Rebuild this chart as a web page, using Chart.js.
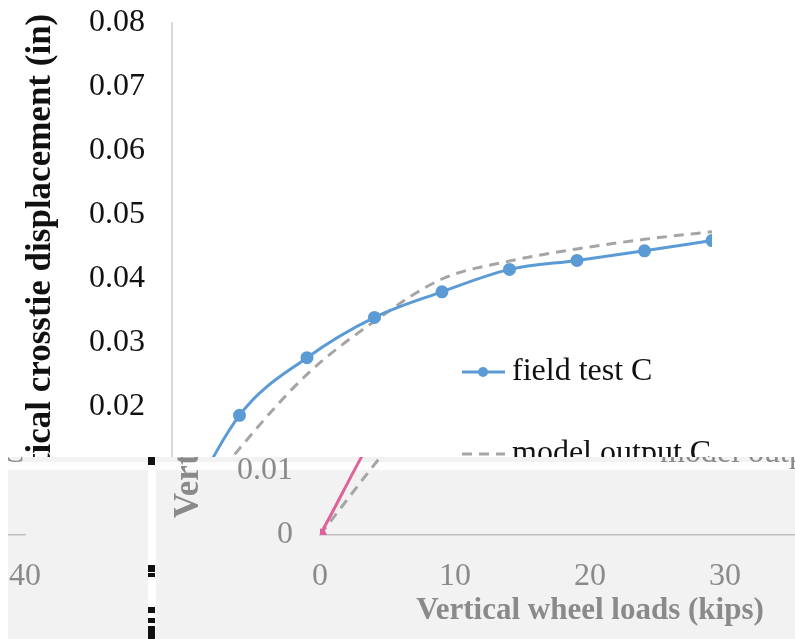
<!DOCTYPE html>
<html>
<head>
<meta charset="utf-8">
<script src="https://cdn.jsdelivr.net/npm/chart.js@4.4.1/dist/chart.umd.min.js"></script>
<style>
  body { margin: 0; background: #fff; }
  .abs { position: absolute; }
  .clip { position: absolute; overflow: hidden; }
  .mark { position: absolute; left: 0; width: 7px; background: #111; }
</style>
</head>
<body>
<canvas id="mainChart" class="abs" width="795" height="639" style="left:0;top:0"></canvas>

<!-- band along the bottom -->
<div class="abs" style="left:8px;top:457px;width:787px;height:182px;background:linear-gradient(#f2f2f2 0 5px,#fdfdfd 5px 13px,#f2f2f2 13px)"></div>
<div class="clip" style="left:8px;top:457px;width:140px;height:182px">
  <canvas id="leftChart" class="abs" width="795" height="639" style="left:-695px;top:-457px"></canvas>
</div>
<div class="clip" style="left:156px;top:457px;width:639px;height:182px">
  <canvas id="shiftChart" class="abs" width="795" height="639" style="left:-8px;top:-457px"></canvas>
</div>
<div class="abs" style="left:148px;top:457px;width:8px;height:182px;background:#fff">
  <div class="mark" style="top:0;height:8px"></div>
  <div class="mark" style="top:108px;height:7px"></div>
  <div class="mark" style="top:116px;height:4px"></div>
  <div class="mark" style="top:150px;height:6px"></div>
  <div class="mark" style="top:161px;height:5px"></div>
  <div class="mark" style="top:169px;height:13px"></div>
</div>

<script>
const loads = [0, 5, 10, 15, 20, 25, 30, 35, 40];
const fieldTestC = [0, 0.0187, 0.0277, 0.0340, 0.0380, 0.0415, 0.0429, 0.0444, 0.0460];
const modelOutputC = [0, 0.0135, 0.0251, 0.0334, 0.0400, 0.0428, 0.0447, 0.0462, 0.0474];
const yTickLabels = ['0', '0.01', '0.02', '0.03', '0.04', '0.05', '0.06', '0.07', '0.08'];
const seriesNames = ['field test C', 'model output C'];
const yTitle = 'Vertical crosstie displacement (in)';
const xTitle = 'Vertical wheel loads (kips)';

const serif = "'Liberation Serif', 'Times New Roman', serif";

// legend drawn as two rows next to the curves
const sideLegend = {
  id: 'sideLegend',
  afterDraw(chart, args, opts) {
    const ctx = chart.ctx;
    chart.data.datasets.forEach((ds, i) => {
      const y = opts.y + i * opts.gap;
      ctx.save();
      ctx.strokeStyle = ds.borderColor;
      ctx.lineWidth = ds.borderWidth;
      ctx.setLineDash(ds.borderDash || []);
      ctx.beginPath();
      ctx.moveTo(opts.x, y);
      ctx.lineTo(opts.x + 43, y);
      ctx.stroke();
      if (ds.pointRadius > 0) {
        ctx.fillStyle = ds.backgroundColor;
        ctx.beginPath();
        ctx.arc(opts.x + 21, y, ds.pointRadius, 0, Math.PI * 2);
        ctx.fill();
      }
      ctx.fillStyle = opts.color;
      ctx.font = '32px ' + serif;
      ctx.textBaseline = 'middle';
      ctx.fillText(ds.label, opts.x + 50, y);
      ctx.restore();
    });
  }
};

// y title sits a bit higher than the axis centre
const sideTitle = {
  id: 'sideTitle',
  afterDraw(chart, args, opts) {
    const ctx = chart.ctx;
    ctx.save();
    ctx.translate(opts.x, opts.y);
    ctx.rotate(-Math.PI / 2);
    ctx.fillStyle = opts.color;
    ctx.font = 'bold 35px ' + serif;
    ctx.textAlign = 'center';
    ctx.textBaseline = 'middle';
    ctx.fillText(opts.text, 0, 0);
    ctx.restore();
  }
};

function makeChart(id, firstColor, textColor, showYLine) {
  const ctx = document.getElementById(id).getContext('2d');
  return new Chart(ctx, {
    type: 'line',
    data: {
      datasets: [{
        label: seriesNames[0],
        data: loads.map((x, i) => ({ x: x, y: fieldTestC[i] })),
        borderColor: firstColor,
        backgroundColor: firstColor,
        borderWidth: 3,
        pointRadius: 5,
        pointHoverRadius: 5,
        cubicInterpolationMode: 'monotone'
      }, {
        label: seriesNames[1],
        data: loads.map((x, i) => ({ x: x, y: modelOutputC[i] })),
        borderColor: '#a5a5a5',
        backgroundColor: '#a5a5a5',
        borderWidth: 3,
        borderDash: [10, 7],
        pointRadius: 0,
        cubicInterpolationMode: 'monotone'
      }]
    },
    options: {
      responsive: false,
      animation: false,
      layout: { padding: { top: 23, right: 83, bottom: 0, left: 0 } },
      scales: {
        x: {
          type: 'linear',
          min: 0,
          max: 40,
          afterFit: (s) => { s.height = 104; s.paddingLeft = 0; s.paddingRight = 0; },
          grid: { display: false, drawTicks: false },
          border: { display: true, color: '#bfbfbf', width: 1.5 },
          ticks: { stepSize: 10, padding: 22, color: textColor, font: { family: serif, size: 32 } },
          title: {
            display: true,
            text: xTitle,
            color: textColor,
            padding: { top: 0, bottom: 9 },
            font: { family: serif, size: 31, weight: 'bold' }
          }
        },
        y: {
          min: 0,
          max: 0.08,
          afterFit: (s) => { s.width = 172; s.paddingTop = 0; s.paddingBottom = 0; },
          grid: { display: false, drawTicks: false },
          border: { display: showYLine, color: '#d9d9d9', width: 2 },
          ticks: {
            stepSize: 0.01,
            padding: 27,
            color: textColor,
            font: { family: serif, size: 32 },
            callback: (v, i) => yTickLabels[i]
          }
        }
      },
      plugins: {
        legend: { display: false },
        tooltip: { enabled: false },
        sideLegend: { x: 462, y: 372, gap: 82, color: textColor },
        sideTitle: { x: 41, y: 266, text: yTitle, color: textColor }
      }
    },
    plugins: [sideLegend, sideTitle]
  });
}

makeChart('mainChart', '#5b9bd5', '#111111', true);
makeChart('shiftChart', '#e0619b', '#8a8a8a', false);
makeChart('leftChart', '#e0619b', '#8a8a8a', false);
</script>
</body>
</html>
